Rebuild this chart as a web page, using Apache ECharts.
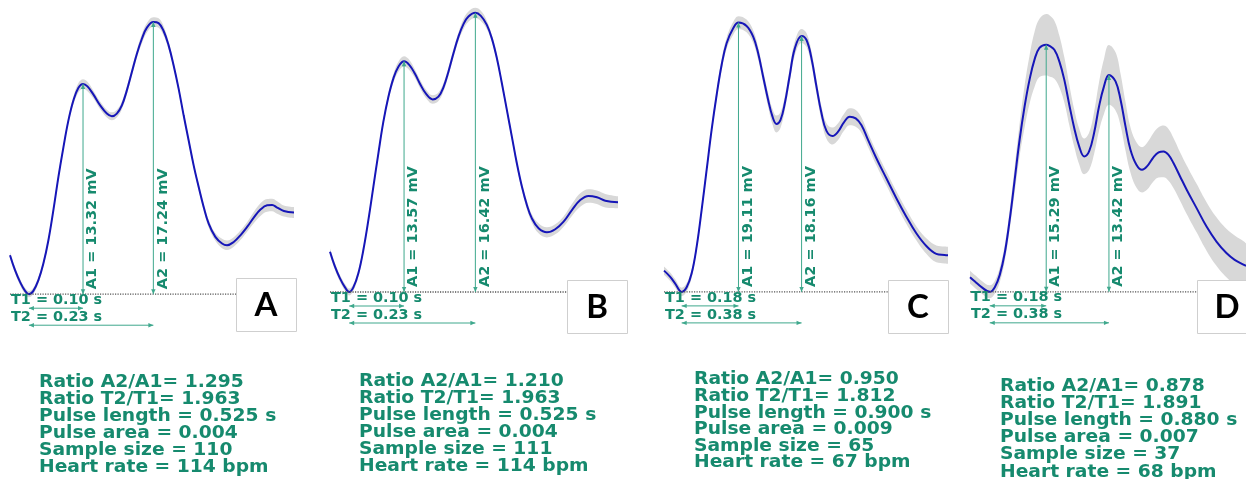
<!DOCTYPE html>
<html><head><meta charset="utf-8">
<script src="https://cdn.jsdelivr.net/npm/echarts@6/dist/echarts.min.js"></script>
<style>html,body{margin:0;padding:0;background:#fff;}#c{width:1246px;height:479px;}</style>
</head><body><div id="c"></div>
<script>
// ---------------- data ----------------
const panelLetters = ['A', 'B', 'C', 'D'];

// time (s) from pulse start, amplitude (mV) above pulse minimum, confidence half-width (mV)
const timeA = [0, 0.0093, 0.0185, 0.0278, 0.035, 0.0432, 0.0525, 0.0617, 0.071, 0.0802, 0.0895, 0.0988, 0.108, 0.1173, 0.1265, 0.135, 0.1432, 0.1543, 0.1667, 0.179, 0.1883, 0.1975, 0.2068, 0.216, 0.2253, 0.2346, 0.2438, 0.2531, 0.265, 0.2747, 0.284, 0.2932, 0.3025, 0.3117, 0.321, 0.3302, 0.3395, 0.3488, 0.358, 0.3673, 0.3796, 0.392, 0.4012, 0.4136, 0.4259, 0.4383, 0.4506, 0.463, 0.4753, 0.4846, 0.4938, 0.5062, 0.525];
const voltA = [2.47, 1.52, 0.78, 0.21, 0, 0.21, 0.89, 1.94, 3.42, 5.32, 7.43, 9.32, 11.01, 12.28, 13.08, 13.32, 13.16, 12.64, 11.96, 11.44, 11.27, 11.44, 11.96, 12.91, 14.07, 15.23, 16.18, 16.88, 17.24, 17.17, 16.67, 15.76, 14.49, 13.02, 11.33, 9.75, 8.16, 6.79, 5.53, 4.47, 3.63, 3.21, 3.10, 3.31, 3.73, 4.26, 4.85, 5.36, 5.63, 5.65, 5.49, 5.27, 5.17];
const bandA = [0.2, 0.2, 0.2, 0.2, 0.2, 0.2, 0.2, 0.2, 0.2, 0.2, 0.2, 0.2, 0.2, 0.25, 0.3, 0.3, 0.3, 0.25, 0.25, 0.25, 0.25, 0.25, 0.25, 0.25, 0.25, 0.25, 0.3, 0.3, 0.3, 0.3, 0.3, 0.25, 0.2, 0.2, 0.2, 0.2, 0.2, 0.2, 0.2, 0.25, 0.25, 0.3, 0.3, 0.3, 0.3, 0.3, 0.35, 0.4, 0.4, 0.4, 0.4, 0.35, 0.35];

const timeB = [0, 0.0091, 0.0182, 0.0274, 0.035, 0.0426, 0.0517, 0.0608, 0.07, 0.0791, 0.0882, 0.0973, 0.1065, 0.1156, 0.1247, 0.135, 0.1448, 0.1551, 0.1642, 0.1752, 0.1873, 0.1977, 0.2068, 0.2159, 0.2251, 0.2342, 0.2433, 0.2524, 0.265, 0.275, 0.2859, 0.295, 0.3042, 0.3133, 0.3224, 0.3315, 0.3406, 0.3498, 0.3589, 0.368, 0.3802, 0.3954, 0.4106, 0.4258, 0.441, 0.4562, 0.4714, 0.4866, 0.5018, 0.525];
const voltB = [2.37, 1.49, 0.80, 0.27, 0, 0.27, 1.10, 2.47, 4.24, 6.20, 8.16, 10.02, 11.49, 12.57, 13.25, 13.57, 13.35, 12.82, 12.24, 11.65, 11.33, 11.49, 12.04, 12.96, 14.04, 15.02, 15.76, 16.20, 16.42, 16.24, 15.71, 14.92, 13.75, 12.28, 10.71, 9.14, 7.57, 6.20, 5.12, 4.33, 3.75, 3.51, 3.69, 4.14, 4.82, 5.41, 5.65, 5.57, 5.37, 5.28];
const bandB = [0.2, 0.2, 0.2, 0.2, 0.2, 0.2, 0.2, 0.2, 0.2, 0.2, 0.2, 0.2, 0.2, 0.25, 0.3, 0.3, 0.3, 0.25, 0.25, 0.25, 0.25, 0.25, 0.25, 0.25, 0.25, 0.25, 0.3, 0.3, 0.3, 0.3, 0.25, 0.2, 0.2, 0.2, 0.2, 0.2, 0.2, 0.2, 0.25, 0.25, 0.3, 0.3, 0.3, 0.3, 0.35, 0.4, 0.4, 0.4, 0.4, 0.35];

const timeC = [0, 0.019, 0.035, 0.056, 0.0718, 0.0877, 0.1035, 0.1193, 0.1351, 0.1509, 0.1668, 0.1826, 0.1984, 0.2193, 0.236, 0.2617, 0.2826, 0.2984, 0.3142, 0.3301, 0.3439, 0.3566, 0.3693, 0.3829, 0.3987, 0.4146, 0.436, 0.4516, 0.4674, 0.4832, 0.4991, 0.5149, 0.5339, 0.5517, 0.5696, 0.5886, 0.6076, 0.6255, 0.6466, 0.673, 0.7046, 0.7363, 0.768, 0.7996, 0.8313, 0.863, 0.8892, 0.9];
const voltC = [1.51, 1.09, 0.61, 0, 0.33, 1.32, 3.21, 5.82, 8.65, 11.49, 13.97, 16.10, 17.64, 18.70, 19.11, 18.87, 18.11, 16.93, 15.27, 13.62, 12.43, 11.91, 12.20, 13.38, 15.39, 17.28, 18.16, 17.87, 16.57, 14.56, 12.67, 11.42, 11.06, 11.37, 12.01, 12.43, 12.31, 11.84, 10.78, 9.48, 8.06, 6.65, 5.34, 4.16, 3.26, 2.70, 2.62, 2.60];
const bandC = [0.3, 0.3, 0.3, 0.3, 0.3, 0.3, 0.3, 0.3, 0.3, 0.3, 0.35, 0.4, 0.4, 0.45, 0.45, 0.45, 0.45, 0.45, 0.45, 0.5, 0.55, 0.6, 0.55, 0.5, 0.5, 0.5, 0.5, 0.5, 0.5, 0.5, 0.5, 0.55, 0.6, 0.6, 0.6, 0.6, 0.6, 0.55, 0.5, 0.5, 0.5, 0.5, 0.5, 0.5, 0.55, 0.6, 0.6, 0.6];

const timeD = [0, 0.0158, 0.0369, 0.063, 0.0791, 0.0949, 0.1108, 0.1266, 0.1424, 0.1582, 0.1741, 0.1899, 0.2057, 0.2215, 0.243, 0.2532, 0.269, 0.2848, 0.3006, 0.3165, 0.3323, 0.3481, 0.3639, 0.3797, 0.3956, 0.4114, 0.4272, 0.443, 0.4641, 0.48, 0.4958, 0.5116, 0.5306, 0.5485, 0.5643, 0.5854, 0.6013, 0.6171, 0.6329, 0.6487, 0.6698, 0.6909, 0.7225, 0.7542, 0.7858, 0.8175, 0.8439, 0.8734, 0.88];
const voltD = [0.91, 0.64, 0.29, 0, 0.29, 1.05, 2.40, 4.46, 6.93, 9.41, 11.47, 13.13, 14.37, 15.09, 15.29, 15.22, 14.98, 14.26, 13.13, 11.58, 10.14, 9.00, 8.38, 8.69, 9.83, 11.47, 12.71, 13.42, 13.02, 11.89, 10.24, 8.79, 7.86, 7.55, 7.76, 8.34, 8.63, 8.69, 8.48, 7.97, 7.14, 6.32, 5.18, 4.04, 3.11, 2.40, 1.98, 1.67, 1.60];
const bandD = [0.4, 0.4, 0.4, 0.4, 0.4, 0.45, 0.5, 0.6, 0.8, 1.0, 1.3, 1.5, 1.7, 1.8, 1.9, 1.9, 1.8, 1.6, 1.4, 1.25, 1.15, 1.1, 1.1, 1.15, 1.3, 1.5, 1.7, 1.85, 1.8, 1.6, 1.5, 1.4, 1.4, 1.4, 1.45, 1.5, 1.55, 1.6, 1.6, 1.55, 1.5, 1.5, 1.5, 1.5, 1.5, 1.5, 1.5, 1.45, 1.4];

// annotations
const tMin = [0.035, 0.035, 0.056, 0.063];
const T1 = [0.10, 0.10, 0.18, 0.18];
const T2 = [0.23, 0.23, 0.38, 0.38];
const A1 = [13.32, 13.57, 19.11, 15.29];
const A2 = [17.24, 16.42, 18.16, 13.42];

// summary statistics
const ratioA2A1 = ['1.295', '1.210', '0.950', '0.878'];
const ratioT2T1 = ['1.963', '1.963', '1.812', '1.891'];
const pulseLength = [0.525, 0.525, 0.900, 0.880];
const pulseArea = ['0.004', '0.004', '0.009', '0.007'];
const sampleSize = [110, 111, 65, 37];
const heartRate = [114, 114, 67, 68];

// ---------------- layout ----------------
const times = [timeA, timeB, timeC, timeD];
const volts = [voltA, voltB, voltC, voltD];
const bands = [bandA, bandB, bandC, bandD];

const layout = [
  {left: 10, top: 10, width: 284, height: 300, ymin: -1, ymax: 18, box: [236, 278, 60, 53], text: [39, 374.5, 17]},
  {left: 330, top: 3, width: 288, height: 306, ymin: -1, ymax: 17, box: [567, 280, 60, 53], text: [359, 373.5, 17]},
  {left: 664, top: 10, width: 284, height: 296, ymin: -1, ymax: 20, box: [888, 280, 60, 53], text: [694, 371.7, 16.6]},
  {left: 970, top: 9, width: 278, height: 299, ymin: -1, ymax: 17.5, box: [1197, 280, 60, 53], text: [1000, 377.5, 17.2]}
];

const TXT = '#168a6e';
const LC = '#3fa88d';
const LINE = '#1616b8';
const BAND = '#d8d8d8';
const FONT = '"DejaVu Sans", sans-serif';
const SMOOTH = 0.4;

function vArrow(ch, pb, pt) {
  const x = pb[0];
  ch.push({type: 'line', shape: {x1: x, y1: pb[1], x2: x, y2: pt[1]}, style: {stroke: LC, lineWidth: 1}});
  ch.push({type: 'polygon', shape: {points: [[x, pt[1]], [x - 2.2, pt[1] + 5], [x + 2.2, pt[1] + 5]]}, style: {fill: LC}});
  ch.push({type: 'polygon', shape: {points: [[x, pb[1]], [x - 2.2, pb[1] - 5], [x + 2.2, pb[1] - 5]]}, style: {fill: LC}});
}
function hArrow(ch, xa, xb, y) {
  ch.push({type: 'line', shape: {x1: xa, y1: y, x2: xb, y2: y}, style: {stroke: LC, lineWidth: 1}});
  ch.push({type: 'polygon', shape: {points: [[xa, y], [xa + 5, y - 2.2], [xa + 5, y + 2.2]]}, style: {fill: LC}});
  ch.push({type: 'polygon', shape: {points: [[xb, y], [xb - 5, y - 2.2], [xb - 5, y + 2.2]]}, style: {fill: LC}});
}

function annot(i) {
  return function (params, api) {
    const tm = api.value(0), t1 = api.value(1), t2 = api.value(2), a1 = api.value(3), a2 = api.value(4);
    const pm = api.coord([tm, 0]);
    const p1b = api.coord([tm + t1, 0]), p1t = api.coord([tm + t1, a1]);
    const p2b = api.coord([tm + t2, 0]), p2t = api.coord([tm + t2, a2]);
    const x0 = api.coord([0, 0])[0], xe = api.coord([pulseLength[i], 0])[0];
    const by = pm[1];
    const ch = [];
    ch.push({type: 'line', shape: {x1: x0, y1: by, x2: xe, y2: by}, style: {stroke: '#555', lineWidth: 1.3, lineDash: [1.2, 1.3]}});
    vArrow(ch, p1b, p1t);
    vArrow(ch, p2b, p2t);
    [[p1b, 'A1 = ' + a1.toFixed(2) + ' mV'], [p2b, 'A2 = ' + a2.toFixed(2) + ' mV']].forEach(function (d) {
      ch.push({type: 'text', x: d[0][0] + 2, y: d[0][1] - 5, rotation: Math.PI / 2,
        style: {text: d[1], fill: TXT, font: 'bold 14.5px ' + FONT, align: 'left', verticalAlign: 'top'}});
    });
    ch.push({type: 'text', x: x0 + 1, y: by + 6, scaleX: 1.03,
      style: {text: 'T1 = ' + t1.toFixed(2) + ' s', fill: TXT, font: 'bold 14px ' + FONT, align: 'left', verticalAlign: 'middle'}});
    ch.push({type: 'text', x: x0 + 1, y: by + 23, scaleX: 1.03,
      style: {text: 'T2 = ' + t2.toFixed(2) + ' s', fill: TXT, font: 'bold 14px ' + FONT, align: 'left', verticalAlign: 'middle'}});
    hArrow(ch, pm[0], p1b[0], by + 14);
    hArrow(ch, pm[0], p2b[0], by + 31);
    return {type: 'group', children: ch};
  };
}

const grid = [], xAxis = [], yAxis = [], series = [], graphic = [];
for (let i = 0; i < 4; i++) {
  const L = layout[i];
  grid.push({left: L.left, top: L.top, width: L.width, height: L.height, containLabel: false});
  xAxis.push({type: 'value', gridIndex: i, min: 0, max: pulseLength[i], show: false, splitLine: {show: false}});
  yAxis.push({type: 'value', gridIndex: i, min: L.ymin, max: L.ymax, show: false, splitLine: {show: false}});
  const t = times[i], v = volts[i], b = bands[i];
  // upper edge of confidence band, filled grey downwards
  series.push({
    type: 'line', xAxisIndex: i, yAxisIndex: i,
    data: t.map((x, k) => [x, v[k] + b[k]]), smooth: SMOOTH, symbol: 'none',
    lineStyle: {opacity: 0}, areaStyle: {color: BAND, opacity: 1, origin: 'start'}, silent: true, z: 1
  });
  // lower edge of confidence band, filled with background below
  series.push({
    type: 'line', xAxisIndex: i, yAxisIndex: i,
    data: t.map((x, k) => [x, v[k] - b[k]]), smooth: SMOOTH, symbol: 'none',
    lineStyle: {opacity: 0}, areaStyle: {color: '#ffffff', opacity: 1, origin: 'start'}, silent: true, z: 2
  });
  series.push({
    type: 'line', xAxisIndex: i, yAxisIndex: i,
    data: t.map((x, k) => [x, v[k]]), smooth: SMOOTH, symbol: 'none',
    lineStyle: {color: LINE, width: 2}, silent: true, z: 3
  });
  series.push({
    type: 'custom', xAxisIndex: i, yAxisIndex: i, clip: false, z: 4, silent: true,
    encode: {x: 0, y: 3},
    data: [[tMin[i], T1[i], T2[i], A1[i], A2[i]]],
    renderItem: annot(i)
  });
  // letter box
  graphic.push({type: 'rect', z: 100, shape: {x: L.box[0] + 0.5, y: L.box[1] + 0.5, width: L.box[2], height: L.box[3]},
    style: {fill: '#fff', stroke: '#cfcfcf', lineWidth: 1}});
  graphic.push({type: 'text', z: 101, x: L.box[0] + L.box[2] / 2, y: L.box[1] + L.box[3] / 2 + 1,
    style: {text: panelLetters[i], fill: '#000', font: 'bold 33px Lato, "Open Sans", sans-serif', align: 'center', verticalAlign: 'middle'}});
  // stats
  const lines = [
    'Ratio A2/A1= ' + ratioA2A1[i],
    'Ratio T2/T1= ' + ratioT2T1[i],
    'Pulse length = ' + pulseLength[i].toFixed(3) + ' s',
    'Pulse area = ' + pulseArea[i],
    'Sample size = ' + sampleSize[i],
    'Heart rate = ' + heartRate[i] + ' bpm'
  ];
  graphic.push({type: 'text', z: 100, x: L.text[0], y: L.text[1], scaleX: 1.10,
    style: {text: lines.join('\n'), fill: TXT, font: 'bold 17px ' + FONT, lineHeight: L.text[2], align: 'left', verticalAlign: 'top'}});
}

const chart = echarts.init(document.getElementById('c'), null, {renderer: 'canvas'});
chart.setOption({
  animation: false,
  backgroundColor: '#ffffff',
  grid: grid, xAxis: xAxis, yAxis: yAxis, series: series, graphic: graphic
});
</script>
</body></html>
